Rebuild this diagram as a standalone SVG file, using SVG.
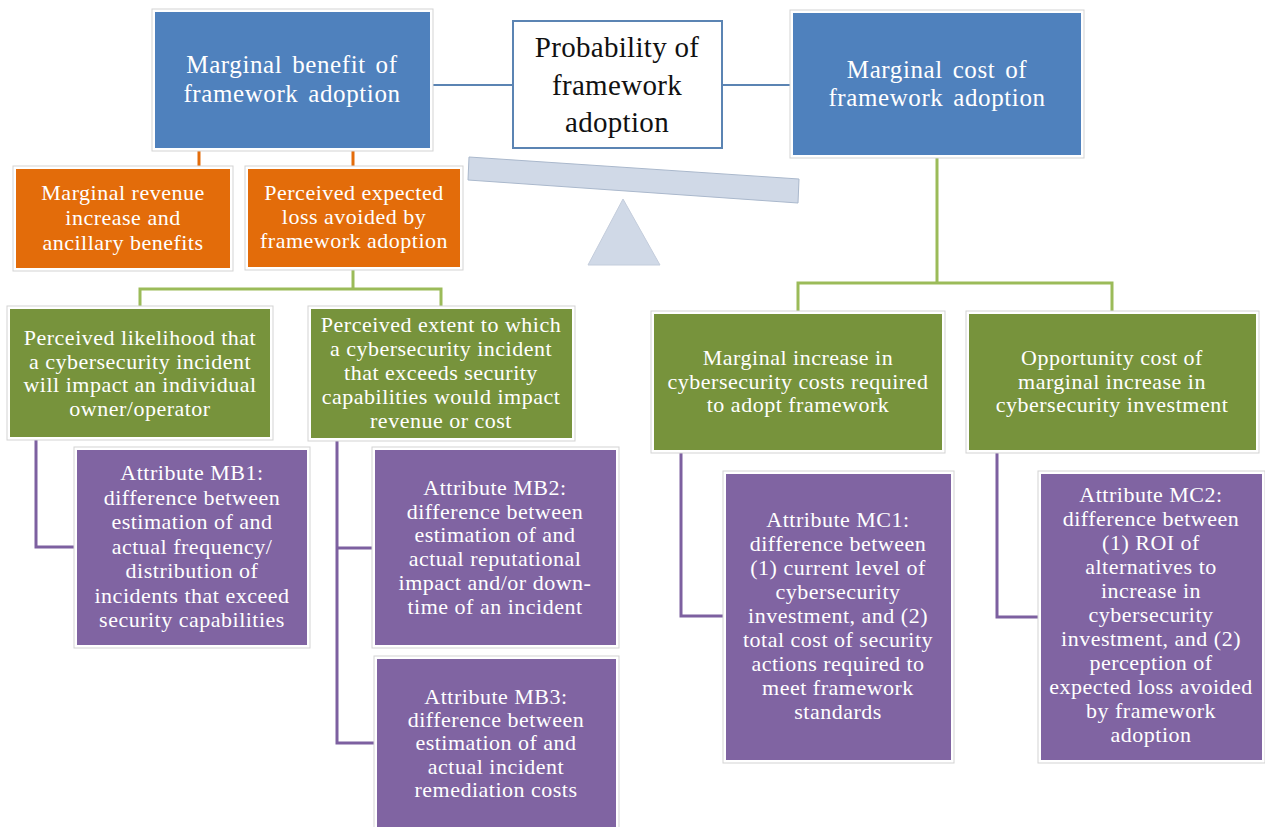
<svg xmlns="http://www.w3.org/2000/svg" width="1265" height="827" viewBox="0 0 1265 827">
<style>
.halo{fill:#ffffff;stroke:#d3d3d3;stroke-width:1}
.blue{fill:#4f81bd}
.orange{fill:#e36c0a}
.green{fill:#77933c}
.purple{fill:#8064a2}
text{text-anchor:middle;fill:#ffffff}
.tb{font-size:25px;letter-spacing:0.6px;word-spacing:3px}
.tp{font-size:29px;letter-spacing:0.3px;fill:#111111}
.tm{font-size:22px;letter-spacing:0.5px}
.c{fill:none;stroke-width:3}
.cb{stroke:#5b84b3;stroke-width:2}
.co{stroke:#e46c0a}
.cg{stroke:#9bbb59}
.cp{stroke:#7d60a0}
</style>
<rect width="1265" height="827" fill="#ffffff"/>
<g id="connectors">
<path class="c cb" d="M430 85 H513 M722 85 H793"/>
<path class="c co" d="M199 148 V169 M353 148 V169"/>
<path class="c cg" d="M353 268 V289 M140 309 V289 H441 V309"/>
<path class="c cg" d="M937 155 V283 M798 314 V283 H1112 V314"/>
<path class="c cp" d="M36 437 V547 H77"/>
<path class="c cp" d="M337 438 V743 H377 M337 548 H375"/>
<path class="c cp" d="M681 450 V616 H726"/>
<path class="c cp" d="M997 450 V617 H1041"/>
</g>
<g id="seesaw">
<polygon points="469,157 799,179 798,203 468,180" fill="#d0d9e7" stroke="#aab8cc" stroke-width="1"/>
<polygon points="623,199 660,265 588,265" fill="#d0d9e7" stroke="#c3ccdb" stroke-width="1"/>
</g>
<g font-family="Liberation Serif, Times New Roman, serif">
<g id="mb">
<rect class="halo" x="152" y="9" width="281" height="142"/>
<rect class="blue" x="155" y="12" width="275" height="136"/>
<text class="tb"><tspan x="292" y="73">Marginal benefit of</tspan><tspan x="292" y="102">framework adoption</tspan></text>
</g>
<g id="prob">
<rect x="513" y="21" width="209" height="127" fill="#ffffff" stroke="#5b84b3" stroke-width="2"/>
<text class="tp"><tspan x="617" y="57">Probability of</tspan><tspan x="617" y="95">framework</tspan><tspan x="617" y="132">adoption</tspan></text>
</g>
<g id="mc">
<rect class="halo" x="790" y="10" width="294" height="148"/>
<rect class="blue" x="793" y="13" width="288" height="142"/>
<text class="tb"><tspan x="937" y="78">Marginal cost of</tspan><tspan x="937" y="106">framework adoption</tspan></text>
</g>
<g id="rev">
<rect class="halo" x="13" y="166" width="220" height="105"/>
<rect class="orange" x="16" y="169" width="214" height="99"/>
<text class="tm"><tspan x="123" y="200">Marginal revenue</tspan><tspan x="123" y="225">increase and</tspan><tspan x="123" y="250">ancillary benefits</tspan></text>
</g>
<g id="loss">
<rect class="halo" x="245" y="166" width="218" height="104"/>
<rect class="orange" x="248" y="169" width="212" height="98"/>
<text class="tm"><tspan x="354" y="200">Perceived expected</tspan><tspan x="354" y="224">loss avoided by</tspan><tspan x="354" y="248">framework adoption</tspan></text>
</g>
<g id="likelihood">
<rect class="halo" x="7" y="306" width="266" height="134"/>
<rect class="green" x="10" y="309" width="260" height="128"/>
<text class="tm"><tspan x="140" y="345">Perceived likelihood that</tspan><tspan x="140" y="369">a cybersecurity incident</tspan><tspan x="140" y="392">will impact an individual</tspan><tspan x="140" y="416">owner/operator</tspan></text>
</g>
<g id="extent">
<rect class="halo" x="308" y="306" width="267" height="135"/>
<rect class="green" x="311" y="309" width="261" height="129"/>
<text class="tm"><tspan x="441" y="332">Perceived extent to which</tspan><tspan x="441" y="356">a cybersecurity incident</tspan><tspan x="441" y="380">that exceeds security</tspan><tspan x="441" y="404">capabilities would impact</tspan><tspan x="441" y="428">revenue or cost</tspan></text>
</g>
<g id="mb1">
<rect class="halo" x="74" y="447" width="236" height="201"/>
<rect class="purple" x="77" y="450" width="230" height="195"/>
<text class="tm"><tspan x="192" y="480">Attribute MB1:</tspan><tspan x="192" y="504.5">difference between</tspan><tspan x="192" y="529">estimation of and</tspan><tspan x="192" y="553.5">actual frequency/</tspan><tspan x="192" y="578">distribution of</tspan><tspan x="192" y="602.5">incidents that exceed</tspan><tspan x="192" y="627">security capabilities</tspan></text>
</g>
<g id="mb2">
<rect class="halo" x="372" y="447" width="247" height="201"/>
<rect class="purple" x="375" y="450" width="241" height="195"/>
<text class="tm"><tspan x="495" y="495">Attribute MB2:</tspan><tspan x="495" y="519">difference between</tspan><tspan x="495" y="542">estimation of and</tspan><tspan x="495" y="566">actual reputational</tspan><tspan x="495" y="590">impact and/or down-</tspan><tspan x="495" y="614">time of an incident</tspan></text>
</g>
<g id="mb3">
<rect class="halo" x="374" y="656" width="245" height="180"/>
<rect class="purple" x="377" y="659" width="239" height="174"/>
<text class="tm"><tspan x="496" y="704">Attribute MB3:</tspan><tspan x="496" y="727">difference between</tspan><tspan x="496" y="750">estimation of and</tspan><tspan x="496" y="774">actual incident</tspan><tspan x="496" y="797">remediation costs</tspan></text>
</g>
<g id="costinc">
<rect class="halo" x="651" y="311" width="294" height="142"/>
<rect class="green" x="654" y="314" width="288" height="136"/>
<text class="tm"><tspan x="798" y="365">Marginal increase in</tspan><tspan x="798" y="389">cybersecurity costs required</tspan><tspan x="798" y="412">to adopt framework</tspan></text>
</g>
<g id="opportunity">
<rect class="halo" x="966" y="311" width="293" height="142"/>
<rect class="green" x="969" y="314" width="287" height="136"/>
<text class="tm"><tspan x="1112" y="365">Opportunity cost of</tspan><tspan x="1112" y="389">marginal increase in</tspan><tspan x="1112" y="412">cybersecurity investment</tspan></text>
</g>
<g id="mc1">
<rect class="halo" x="723" y="471" width="231" height="292"/>
<rect class="purple" x="726" y="474" width="225" height="286"/>
<text class="tm"><tspan x="838" y="527">Attribute MC1:</tspan><tspan x="838" y="551">difference between</tspan><tspan x="838" y="575">(1) current level of</tspan><tspan x="838" y="599">cybersecurity</tspan><tspan x="838" y="623">investment, and (2)</tspan><tspan x="838" y="647">total cost of security</tspan><tspan x="838" y="671">actions required to</tspan><tspan x="838" y="695">meet framework</tspan><tspan x="838" y="719">standards</tspan></text>
</g>
<g id="mc2">
<rect class="halo" x="1038" y="471" width="227" height="292"/>
<rect class="purple" x="1041" y="474" width="221" height="286"/>
<text class="tm"><tspan x="1151" y="502">Attribute MC2:</tspan><tspan x="1151" y="526">difference between</tspan><tspan x="1151" y="550">(1) ROI of</tspan><tspan x="1151" y="574">alternatives to</tspan><tspan x="1151" y="598">increase in</tspan><tspan x="1151" y="622">cybersecurity</tspan><tspan x="1151" y="646">investment, and (2)</tspan><tspan x="1151" y="670">perception of</tspan><tspan x="1151" y="694">expected loss avoided</tspan><tspan x="1151" y="718">by framework</tspan><tspan x="1151" y="742">adoption</tspan></text>
</g>
</g>
</svg>
